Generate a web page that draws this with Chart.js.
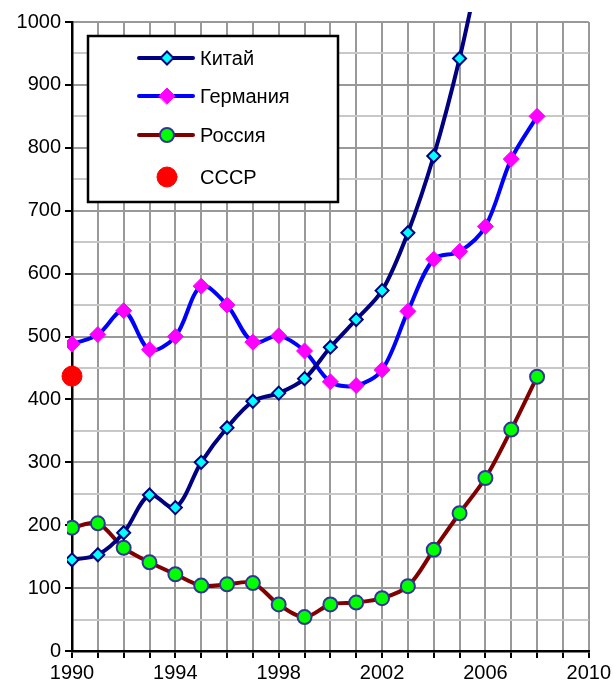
<!DOCTYPE html>
<html>
<head>
<meta charset="utf-8">
<script src="https://cdn.jsdelivr.net/npm/chart.js@4.4.1/dist/chart.umd.min.js"></script>
<style>
  body { margin: 0; background: #fff; }
  #wrap { width: 614px; height: 686px; }
</style>
</head>
<body>
<div id="wrap"><canvas id="myChart" width="614" height="686"></canvas></div>
<script>
// годы и значения
const years = [1990, 1991, 1992, 1993, 1994, 1995, 1996, 1997, 1998, 1999,
               2000, 2001, 2002, 2003, 2004, 2005, 2006, 2007, 2008];
const kitai    = [145, 153, 188, 248, 228, 300, 355, 397, 410, 433,
                  483, 527, 573, 665, 787, 942, 1130, 1300, 1450];
const germania = [488, 503, 541, 479, 500, 580, 550, 491, 501, 477,
                  428, 422, 447, 540, 623, 635, 675, 782, 850];
const rossiya  = [196, 203, 164, 141, 122, 104, 106, 108, 74, 54,
                  74, 77, 84, 103, 161, 219, 275, 352, 436];
const sssrYear = [1990];
const sssr     = [437];
const legendLabels = ['Китай', 'Германия', 'Россия', 'СССР'];

const FONT = "'Liberation Sans', Arial, sans-serif";

function pares(xs, ys) {
    return xs.map((x, i) => ({ x: x, y: ys[i] }));
}

// leyenda dibujada a mano dentro del área del gráfico
const leyenda = {
    id: 'leyenda',
    afterDatasetsDraw(chart) {
        const c = chart.ctx;
        c.save();
        c.fillStyle = '#fff';
        c.fillRect(88, 36, 250, 166);
        c.lineWidth = 2.5;
        c.strokeStyle = '#000';
        c.strokeRect(88, 36, 250, 166);

        const filas = [58, 96, 135, 177];
        chart.data.datasets.forEach((ds, i) => {
            const y = filas[i];
            if (ds.showLine !== false) {
                c.beginPath();
                c.moveTo(139, y);
                c.lineTo(193, y);
                c.lineWidth = 4;
                c.lineCap = 'round';
                c.strokeStyle = ds.borderColor;
                c.stroke();
            }
            c.fillStyle = ds.pointBackgroundColor;
            c.strokeStyle = ds.pointBorderColor;
            c.lineWidth = ds.pointBorderWidth;
            Chart.helpers.drawPoint(c, {
                pointStyle: ds.pointStyle,
                rotation: 0,
                radius: ds.pointRadius,
                borderWidth: ds.pointBorderWidth
            }, 167, y);
            c.fillStyle = '#000';
            c.font = '20px ' + FONT;
            c.textBaseline = 'middle';
            c.textAlign = 'left';
            c.fillText(legendLabels[i], 200, y + 1);
        });
        c.restore();
    }
};

const ctx = document.getElementById('myChart');

window.grafica = new Chart(ctx, {
    type: 'line',
    data: {
        datasets: [{
            label: legendLabels[0],
            data: pares(years, kitai),
            borderColor: '#000080',
            borderWidth: 4,
            tension: 0.33,
            pointStyle: 'rectRot',
            pointRadius: 6.5,
            pointBackgroundColor: '#00FFFF',
            pointBorderColor: '#000080',
            pointBorderWidth: 2,
            clip: { left: 5, top: 10, right: 5, bottom: 5 }
        }, {
            label: legendLabels[1],
            data: pares(years, germania),
            borderColor: '#0000FF',
            borderWidth: 4,
            tension: 0.33,
            pointStyle: 'rectRot',
            pointRadius: 8,
            pointBackgroundColor: '#FF00FF',
            pointBorderColor: '#FF00FF',
            pointBorderWidth: 1,
            clip: 5
        }, {
            label: legendLabels[2],
            data: pares(years, rossiya),
            borderColor: '#800000',
            borderWidth: 4,
            tension: 0.33,
            pointStyle: 'circle',
            pointRadius: 7,
            pointBackgroundColor: '#00FF00',
            pointBorderColor: '#333399',
            pointBorderWidth: 2,
            clip: 5
        }, {
            label: legendLabels[3],
            data: pares(sssrYear, sssr),
            showLine: false,
            borderColor: '#FF0000',
            pointStyle: 'circle',
            pointRadius: 10,
            pointBackgroundColor: '#FF0000',
            pointBorderColor: '#FF0000',
            pointBorderWidth: 1,
            clip: 12
        }]
    },
    options: {
        responsive: false,
        animation: false,
        layout: { padding: { top: 22, right: 25, left: 0, bottom: 0 } },
        plugins: {
            legend: { display: false },
            tooltip: { enabled: false }
        },
        scales: {
            x: {
                type: 'linear',
                min: 1990,
                max: 2010,
                afterFit: (s) => { s.height = 35; },
                ticks: {
                    stepSize: 1,
                    autoSkip: false,
                    maxRotation: 0,
                    padding: 3,
                    color: '#000',
                    font: { family: FONT, size: 20 },
                    callback: (v) => ((v - 1990) % 4 === 0 ? String(v) : '')
                },
                grid: {
                    color: '#999',
                    lineWidth: 2,
                    tickColor: '#000',
                    tickLength: 7
                },
                border: { color: '#000', width: 2.5 }
            },
            y: {
                min: 0,
                max: 1000,
                afterFit: (s) => { s.width = 72; },
                ticks: {
                    stepSize: 50,
                    autoSkip: false,
                    padding: 4,
                    color: '#000',
                    font: { family: FONT, size: 20 },
                    callback: (v) => (v % 100 === 0 ? String(v) : '')
                },
                grid: {
                    color: (c) => (c.tick && c.tick.value % 100 !== 0 ? '#c8c8c8' : '#999'),
                    lineWidth: 2,
                    tickColor: (c) => (c.tick && c.tick.value % 100 !== 0 ? 'rgba(0,0,0,0)' : '#000'),
                    tickLength: 7
                },
                border: { color: '#000', width: 2.5 }
            }
        }
    },
    plugins: [leyenda]
});
</script>
</body>
</html>
